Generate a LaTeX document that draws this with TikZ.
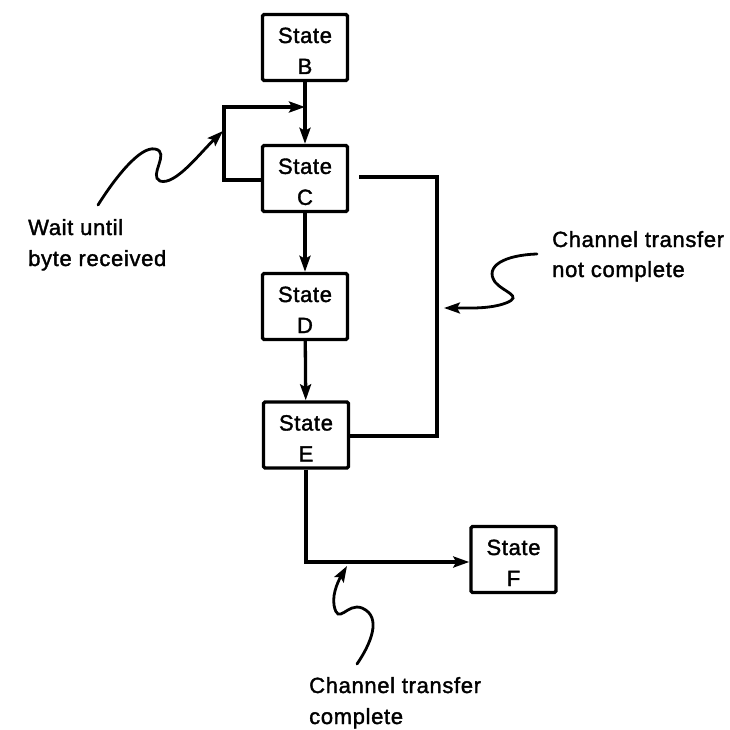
\documentclass[tikz,border=0pt]{standalone}
\usepackage{fontspec}
\setmainfont{Liberation Sans}[LetterSpace=3,FakeBold=1.6]
\usetikzlibrary{arrows.meta}
\begin{document}
\begin{tikzpicture}[x=1pt,y=-1pt,
  statebox/.style={draw, line width=3.4pt, rounded corners=1.5pt, minimum width=85pt, minimum height=66pt, inner sep=0pt, align=center, font=\fontsize{22pt}{31pt}\selectfont},
  flowline/.style={line width=3.3pt, line join=miter},
  arrowend/.style={-{Stealth[length=16pt,width=11pt,inset=3pt]}},
  squig/.style={line width=2.8pt, line cap=round, -{Stealth[length=16pt,width=11pt,inset=3pt]}},
  lbl/.style={anchor=base west, inner sep=0pt, font=\fontsize{22pt}{31pt}\selectfont}]
\useasboundingbox (0,0) rectangle (730,730);
\fill[white] (0,0) rectangle (730,730);

\node[statebox] (B) at (305,47.5) {\rule{0pt}{22pt}State\\B};
\node[statebox] (C) at (305,178.5) {\rule{0pt}{22pt}State\\C};
\node[statebox] (D) at (305,306.5) {\rule{0pt}{22pt}State\\D};
\node[statebox] (E) at (306,435) {\rule{0pt}{22pt}State\\E};
\node[statebox] (F) at (513.5,559.5) {\rule{0pt}{22pt}State\\F};

\coordinate (loopL) at (224,180);
\coordinate (loopT) at (224,107);
\coordinate (join) at (305,107);
\coordinate (rTop) at (437,177);
\coordinate (rBot) at (437,436);
\coordinate (eDown) at (306,562);

% straight flow
\draw[flowline,arrowend] (B) -- (C);
\draw[flowline,arrowend] (C) -- (D);
\draw[flowline,arrowend] (D) -- (E);

% wait loop
\draw[flowline,arrowend] (C.west |- loopL) -- (loopL) -- (loopT) -- (join);

% not complete loop
\draw[flowline] ([xshift=10pt]C.east |- rTop) -- (rTop) -- (rBot) -- (E.east |- rBot);

% to F
\draw[flowline,arrowend] (E.south) -- (eDown) -- (F.west |- eDown);

% labels
\node[lbl] (w1) at (28,235) {Wait until};
\node[lbl] (w2) at (28,266) {byte received};
\node[lbl] (n1) at (552,247) {Channel transfer};
\node[lbl] (n2) at (552,277) {not complete};
\node[lbl] (c1) at (309,693) {Channel transfer};
\node[lbl] (c2) at (309,724) {complete};

% squiggly pointers
\coordinate (s1a) at (98,205);
\coordinate (s1b) at (223,131);
\draw[squig] (s1a) .. controls (115,178) and (140,146) .. (155,149)
  .. controls (171,152) and (148,176) .. (160,181)
  .. controls (175,186) and (200,153) .. (s1b);

\coordinate (s2a) at (537,254);
\coordinate (s2b) at (444,308);
\draw[squig] (s2a) .. controls (505,255) and (484,266) .. (495,282)
  .. controls (503,292) and (524,296) .. (506,303)
  .. controls (490,309) and (470,308) .. (s2b);

\coordinate (s3a) at (357,664);
\coordinate (s3b) at (347,566);
\draw[squig] (s3a) .. controls (370,645) and (383,617) .. (362,608)
  .. controls (347,602) and (338,627) .. (334,605)
  .. controls (332,592) and (340,578) .. (s3b);
\end{tikzpicture}
\end{document}
